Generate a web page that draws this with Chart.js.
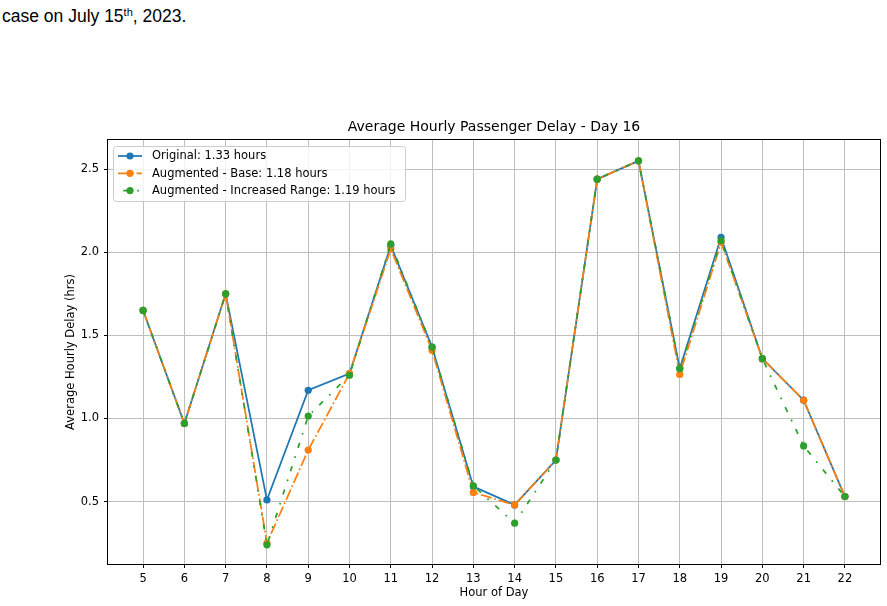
<!DOCTYPE html>
<html>
<head>
<meta charset="utf-8">
<script src="https://cdn.jsdelivr.net/npm/chart.js@4.4.1/dist/chart.umd.min.js"></script>
<style>
    html, body { margin: 0; padding: 0; background: #fff; }
    #wrap { position: relative; width: 887px; height: 606px; overflow: hidden; }
    #chart { position: absolute; left: 0; top: 0; }
    .caption {
        position: absolute; left: 2px; top: 8px;
        font-family: "Liberation Sans", sans-serif; font-size: 17.5px; line-height: 1; color: #000;
    }
    .caption sup { font-size: 11px; vertical-align: 6px; line-height: 0; }
</style>
</head>
<body>
<div id="wrap">
    <div class="caption">case on July 15<sup>th</sup>, 2023.</div>
    <canvas id="chart" width="887" height="606"></canvas>
</div>
<script>
const hours = [5, 6, 7, 8, 9, 10, 11, 12, 13, 14, 15, 16, 17, 18, 19, 20, 21, 22];
const original = [1.65, 0.97, 1.75, 0.51, 1.17, 1.27, 2.04, 1.43, 0.59, 0.48, 0.75, 2.44, 2.55, 1.30, 2.09, 1.36, 1.11, 0.53];
const augmentedBase = [1.65, 0.97, 1.75, 0.25, 0.81, 1.27, 2.02, 1.41, 0.555, 0.48, 0.75, 2.44, 2.55, 1.265, 2.06, 1.36, 1.11, 0.53];
const augmentedRange = [1.65, 0.97, 1.75, 0.24, 1.015, 1.26, 2.05, 1.43, 0.595, 0.37, 0.75, 2.44, 2.55, 1.30, 2.07, 1.36, 0.835, 0.53];
const seriesLabels = ["Original: 1.33 hours", "Augmented - Base: 1.18 hours", "Augmented - Increased Range: 1.19 hours"];
const yTicks = [0.5, 1.0, 1.5, 2.0, 2.5];

const FONT = "'DejaVu Sans', sans-serif";

function points(values) {
    return hours.map((h, i) => ({ x: h, y: values[i] }));
}

function lineSet(label, values, color, dash, legendOffset, order) {
    return {
        label: label,
        data: points(values),
        borderColor: color,
        backgroundColor: color,
        borderWidth: 1.75,
        borderDash: dash,
        legendDashOffset: legendOffset,
        pointRadius: 3.6,
        pointBorderWidth: 0,
        pointBackgroundColor: color,
        tension: 0,
        order: order,
    };
}

// spines on all four sides and a matplotlib-like legend box inside the axes
const frameAndLegend = {
    id: "frameAndLegend",
    afterDatasetsDraw(chart) {
        const ctx = chart.ctx;
        const a = chart.chartArea;
        ctx.save();
        ctx.strokeStyle = "#000";
        ctx.lineWidth = 1;
        ctx.strokeRect(Math.round(a.left) - 0.5, Math.round(a.top) - 0.5,
            Math.round(a.right - a.left) + 1, Math.round(a.bottom - a.top) + 1);

        const bx = a.left + 5, by = a.top + 6, bw = 292, bh = 55;
        ctx.beginPath();
        ctx.roundRect(bx + 0.5, by + 0.5, bw, bh, 3);
        ctx.fillStyle = "rgba(255,255,255,0.8)";
        ctx.fill();
        ctx.strokeStyle = "#cccccc";
        ctx.stroke();

        ctx.font = "11.5px " + FONT;
        ctx.textBaseline = "middle";
        chart.data.datasets.forEach((ds, i) => {
            const y = by + 10 + i * 17.3;
            ctx.setLineDash(ds.borderDash || []);
            ctx.lineDashOffset = ds.legendDashOffset || 0;
            ctx.strokeStyle = ds.borderColor;
            ctx.lineWidth = 1.75;
            ctx.beginPath();
            ctx.moveTo(bx + 5, y);
            ctx.lineTo(bx + 29, y);
            ctx.stroke();
            ctx.setLineDash([]);
            ctx.fillStyle = ds.borderColor;
            ctx.beginPath();
            ctx.arc(bx + 17, y, 3.6, 0, Math.PI * 2);
            ctx.fill();
            ctx.fillStyle = "#000";
            ctx.fillText(ds.label, bx + 39, y + 0.5);
        });
        ctx.restore();
    },
};

new Chart(document.getElementById("chart"), {
    type: "line",
    data: {
        datasets: [
            lineSet(seriesLabels[0], original, "#1f77b4", [], 0, 2),
            lineSet(seriesLabels[1], augmentedBase, "#ff7f0e", [11.2, 2.8, 1.75, 2.8], 0, 1),
            lineSet(seriesLabels[2], augmentedRange, "#2ca02c", [5.25, 8.75, 1.75, 8.75], 19.25, 0),
        ],
    },
    options: {
        responsive: false,
        animation: false,
        layout: { padding: { left: 64, right: 7, top: 119.2, bottom: 6 } },
        plugins: {
            legend: { display: false },
            tooltip: { enabled: false },
            title: {
                display: true,
                text: "Average Hourly Passenger Delay - Day 16",
                fullSize: false,
                color: "#000",
                font: { family: FONT, size: 14, weight: "normal" },
                padding: { top: 0, bottom: 4 },
            },
        },
        scales: {
            x: {
                type: "linear",
                min: 4.15,
                max: 22.85,
                afterBuildTicks: (s) => { s.ticks = hours.map((v) => ({ value: v })); },
                afterFit: (s) => { s.height = 36; },
                ticks: {
                    autoSkip: false, maxRotation: 0, padding: 4, color: "#000",
                    font: { family: FONT, size: 11.5 },
                    callback: (v) => String(v),
                },
                grid: { color: "#bebebe", lineWidth: 1, tickColor: "#000", tickLength: 4 },
                border: { display: false },
                title: {
                    display: true, text: "Hour of Day", color: "#000",
                    font: { family: FONT, size: 11.5 }, padding: { top: 0, bottom: 0 },
                },
            },
            y: {
                min: 0.1245,
                max: 2.6755,
                afterBuildTicks: (s) => { s.ticks = yTicks.map((v) => ({ value: v })); },
                afterFit: (s) => { s.width = 44; },
                ticks: {
                    padding: 5, color: "#000",
                    font: { family: FONT, size: 11.5 },
                    callback: (v) => Number(v).toFixed(1),
                },
                grid: { color: "#bebebe", lineWidth: 1, tickColor: "#000", tickLength: 4 },
                border: { display: false },
                title: {
                    display: true, text: "Average Hourly Delay (hrs)", color: "#000",
                    font: { family: FONT, size: 11.5 }, padding: { top: 0, bottom: 0 },
                },
            },
        },
    },
    plugins: [frameAndLegend],
});
</script>
</body>
</html>
